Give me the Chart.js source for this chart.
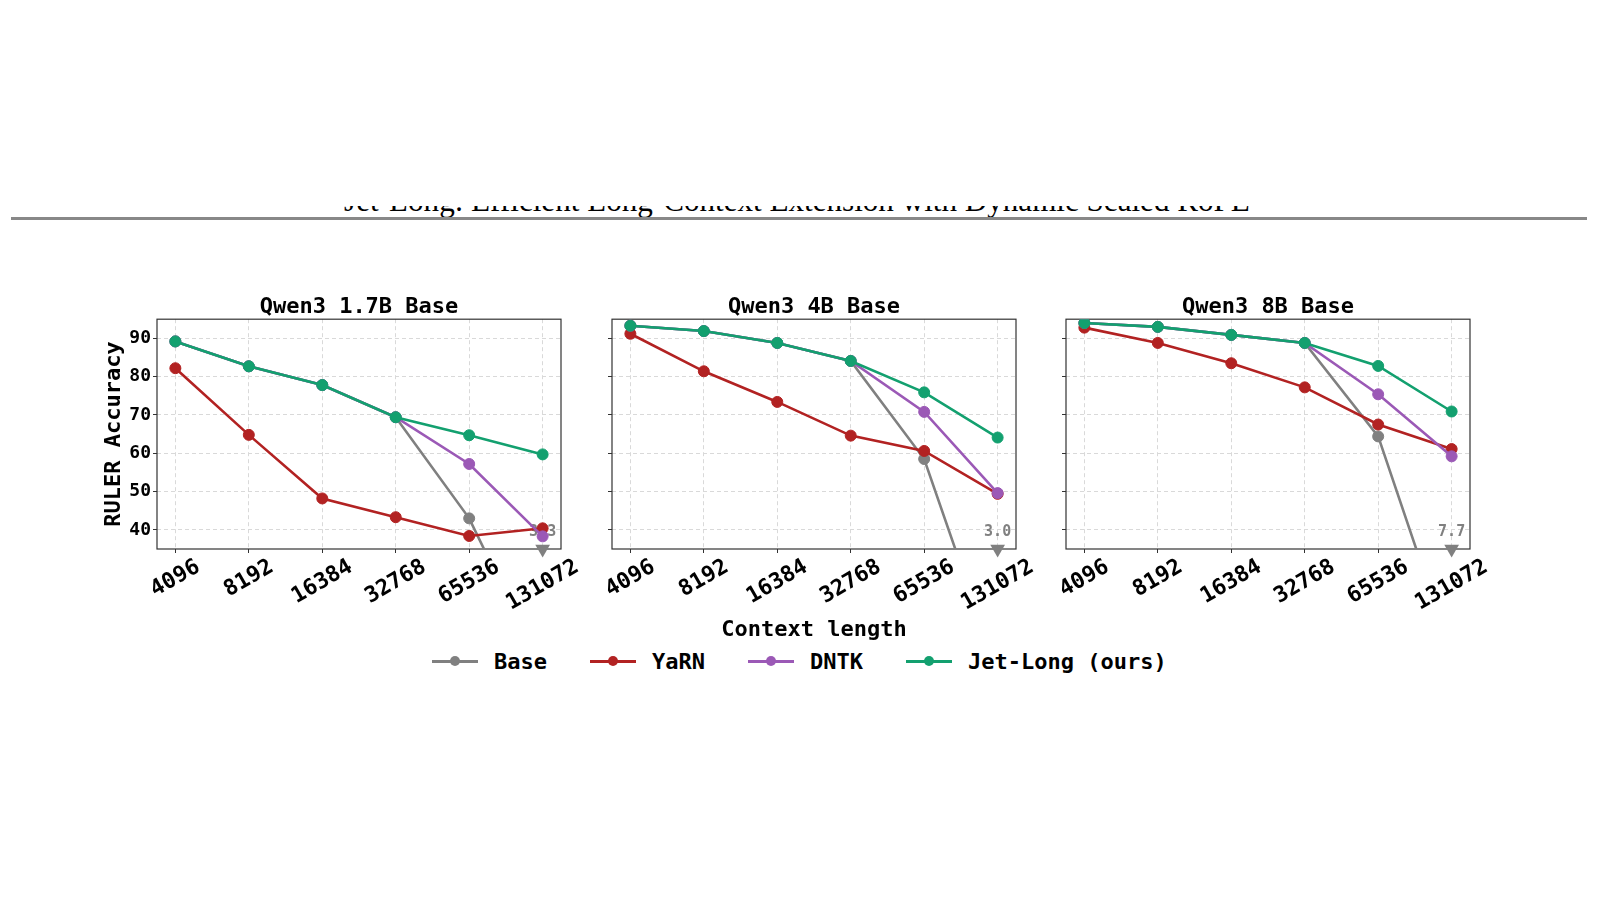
<!DOCTYPE html>
<html>
<head>
<meta charset="utf-8">
<title>RULER accuracy vs context length</title>
<script src="https://cdn.jsdelivr.net/npm/chart.js@4.4.1/dist/chart.umd.min.js"></script>
<style>
    body { margin: 0; background: #fff; }
    #page { position: relative; width: 1600px; height: 900px; overflow: hidden; background: #fff; }
    #headClip { position: absolute; left: 0; top: 206px; width: 1600px; height: 11px; overflow: hidden; }
    #headText { position: absolute; white-space: nowrap; line-height: 1; font-family: "Liberation Serif", serif; color: #000; }
    #headRule { position: absolute; left: 11px; top: 217px; width: 1576px; height: 3px; background: #888; }
    .panel { position: absolute; top: 287px; }
    #xTitle { position: absolute; left: 614px; top: 616px; width: 400px; text-align: center; line-height: 26px;
              font: bold 22px "DejaVu Sans Mono", monospace; color: #000; }
    #legend { position: absolute; left: 432px; top: 648px; height: 26px; display: flex; align-items: center;
              font: bold 22px "DejaVu Sans Mono", monospace; color: #000; }
    #legend .item { display: flex; align-items: center; margin-right: 43px; }
    #legend .swatch { position: relative; width: 46px; height: 26px; margin-right: 16px; }
    #legend .ln { position: absolute; left: 0; top: 11.5px; width: 46px; height: 3px; }
    #legend .dot { position: absolute; left: 18px; top: 8px; width: 10px; height: 10px; border-radius: 50%; }
</style>
</head>
<body>
<div id="page">
    <div id="headClip"><span id="headText">Jet-Long: Efficient Long-Context Extension with Dynamic Scaled RoPE</span></div>
    <div id="headRule"></div>
    <div class="panel" style="left:67px"><canvas id="panel0" width="544" height="332"></canvas></div>
    <div class="panel" style="left:522px"><canvas id="panel1" width="544" height="332"></canvas></div>
    <div class="panel" style="left:976px"><canvas id="panel2" width="544" height="332"></canvas></div>
    <div id="xTitle">Context length</div>
    <div id="legend"></div>
</div>
<script>
var contextLengths = ['4096', '8192', '16384', '32768', '65536', '131072'];
var panelTitles = ['Qwen3 1.7B Base', 'Qwen3 4B Base', 'Qwen3 8B Base'];
var seriesNames = ['Base', 'YaRN', 'DNTK', 'Jet-Long (ours)'];
var seriesColors = ['#808080', '#b22222', '#9b59b6', '#13a06f'];

// Qwen3 1.7B Base
var base17 = [89.2, 82.7, 77.8, 69.4, 43.0, 3.3];
var yarn17 = [82.2, 64.8, 48.2, 43.3, 38.4, 40.4];
var dntk17 = [89.2, 82.7, 77.8, 69.4, 57.2, 38.3];
var jet17 = [89.2, 82.7, 77.8, 69.4, 64.7, 59.7];

// Qwen3 4B Base
var base4 = [93.3, 91.9, 88.8, 84.1, 58.5, 3.0];
var yarn4 = [91.2, 81.4, 73.4, 64.6, 60.6, 49.4];
var dntk4 = [93.3, 91.9, 88.8, 84.1, 70.8, 49.6];
var jet4 = [93.3, 91.9, 88.8, 84.1, 75.9, 64.1];

// Qwen3 8B Base
var base8 = [94.0, 93.0, 90.9, 88.8, 64.4, 7.7];
var yarn8 = [92.8, 88.8, 83.5, 77.2, 67.5, 61.1];
var dntk8 = [94.0, 93.0, 90.9, 88.8, 75.4, 59.2];
var jet8 = [94.0, 93.0, 90.9, 88.8, 82.8, 70.9];

var yTicks = [40, 50, 60, 70, 80, 90];
var yMin = 35;
var yMax = 95;

var panelSeries = [
    [base17, yarn17, dntk17, jet17],
    [base4, yarn4, dntk4, jet4],
    [base8, yarn8, dntk8, jet8]
];

var MONO = "'DejaVu Sans Mono', monospace";
Chart.defaults.font.family = MONO;
Chart.defaults.color = '#000';

function buildPoints(values) {
    return values.map(function (v, i) { return { x: i, y: v }; });
}

// values below the axis get a marker sitting on the bottom spine
function buildOffscale(values) {
    var pts = [];
    values.forEach(function (v, i) {
        if (v < yMin) pts.push({ x: i, y: yMin, actual: v });
    });
    return pts;
}

var framePlugin = {
    id: 'frame',
    beforeDatasetsDraw: function (chart) {
        var a = chart.chartArea;
        var ctx = chart.ctx;
        ctx.save();
        ctx.strokeStyle = '#333';
        ctx.lineWidth = 1.2;
        ctx.strokeRect(a.left, a.top, a.right - a.left, a.bottom - a.top);
        ctx.restore();
    }
};

var offscaleLabelPlugin = {
    id: 'offscaleLabels',
    beforeDatasetsDraw: function (chart) {
        var ctx = chart.ctx;
        var xScale = chart.scales.x;
        var yScale = chart.scales.y;
        ctx.save();
        ctx.font = 'bold 15px ' + MONO;
        ctx.textAlign = 'center';
        ctx.textBaseline = 'middle';
        chart.data.datasets.forEach(function (ds) {
            if (!ds.isOffscale) return;
            ctx.fillStyle = ds.pointBackgroundColor;
            ds.data.forEach(function (p) {
                ctx.fillText(p.actual.toFixed(1), xScale.getPixelForValue(p.x), yScale.getPixelForValue(p.y) - 17);
            });
        });
        ctx.restore();
    }
};

// matplotlib style: rotated labels centred under the tick
var xTickLabelPlugin = {
    id: 'xTickLabels',
    afterDraw: function (chart) {
        var ctx = chart.ctx;
        var xScale = chart.scales.x;
        var bottom = chart.chartArea.bottom;
        var angle = 30 * Math.PI / 180;
        ctx.save();
        ctx.font = 'bold 22px ' + MONO;
        ctx.fillStyle = '#000';
        ctx.textAlign = 'center';
        ctx.textBaseline = 'middle';
        xScale.ticks.forEach(function (tick) {
            var label = contextLengths[tick.value];
            var w = ctx.measureText(label).width;
            var boxH = w * Math.sin(angle) + 17 * Math.cos(angle);
            ctx.save();
            ctx.translate(xScale.getPixelForValue(tick.value), bottom + 9 + boxH / 2);
            ctx.rotate(-angle);
            ctx.fillText(label, 0, 0);
            ctx.restore();
        });
        ctx.restore();
    }
};

function initPanelChart(canvasId, title, series, showYLabels) {
    var datasets = [];

    series.forEach(function (values, s) {
        var off = buildOffscale(values);
        if (off.length > 0) {
            datasets.push({
                label: seriesNames[s] + ' (off scale)',
                isOffscale: true,
                data: off,
                showLine: false,
                clip: false,
                pointStyle: 'triangle',
                pointRotation: 180,
                pointRadius: 8.5,
                pointBorderWidth: 0,
                pointBackgroundColor: seriesColors[s]
            });
        }
    });

    // first dataset is drawn on top, so Jet-Long goes first
    for (var s = series.length - 1; s >= 0; s--) {
        datasets.push({
            label: seriesNames[s],
            data: buildPoints(series[s]),
            borderColor: seriesColors[s],
            backgroundColor: seriesColors[s],
            borderWidth: 2.6,
            pointRadius: 5.5,
            pointBorderWidth: 1,
            pointBorderColor: seriesColors[s],
            pointBackgroundColor: seriesColors[s],
            tension: 0,
            fill: false
        });
    }

    var ctx = document.getElementById(canvasId).getContext('2d');
    return new Chart(ctx, {
        type: 'line',
        data: { datasets: datasets },
        options: {
            responsive: false,
            animation: false,
            devicePixelRatio: 1,
            layout: { padding: { left: 0, right: 50, top: 0, bottom: 0 } },
            plugins: {
                legend: { display: false },
                tooltip: { enabled: false },
                title: {
                    display: true,
                    fullSize: false,
                    text: title,
                    color: '#000',
                    font: { size: 22, weight: 'bold', lineHeight: 1.1 },
                    padding: { top: 8, bottom: 0 }
                }
            },
            scales: {
                x: {
                    type: 'linear',
                    min: -0.25,
                    max: contextLengths.length - 0.75,
                    afterBuildTicks: function (scale) {
                        scale.ticks = contextLengths.map(function (c, i) { return { value: i }; });
                    },
                    afterFit: function (scale) { scale.height = 70; },
                    ticks: { display: false },
                    grid: {
                        color: '#d9d9d9',
                        lineWidth: 1,
                        drawTicks: true,
                        tickLength: 4,
                        tickColor: '#333',
                        tickWidth: 1,
                        tickBorderDash: []
                    },
                    border: { display: false, dash: [4, 3] }
                },
                y: {
                    type: 'linear',
                    min: yMin,
                    max: yMax,
                    afterBuildTicks: function (scale) {
                        scale.ticks = yTicks.map(function (v) { return { value: v }; });
                    },
                    afterFit: function (scale) { scale.width = 90; },
                    ticks: {
                        padding: 2,
                        color: '#000',
                        font: { size: 18, weight: 'bold' },
                        callback: function (v) { return showYLabels ? String(v) : ''; }
                    },
                    title: {
                        display: showYLabels,
                        text: 'RULER Accuracy',
                        color: '#000',
                        font: { size: 22, weight: 'bold' },
                        padding: { top: 34, bottom: 0 }
                    },
                    grid: {
                        color: '#d9d9d9',
                        lineWidth: 1,
                        drawTicks: true,
                        tickLength: 4,
                        tickColor: '#333',
                        tickWidth: 1,
                        tickBorderDash: []
                    },
                    border: { display: false, dash: [4, 3] }
                }
            }
        },
        plugins: [framePlugin, offscaleLabelPlugin, xTickLabelPlugin]
    });
}

function buildLegend() {
    var legend = document.getElementById('legend');
    seriesNames.forEach(function (name, i) {
        var item = document.createElement('span');
        item.className = 'item';
        item.innerHTML = '<span class="swatch"><span class="ln" style="background:' + seriesColors[i] + '"></span>' +
            '<span class="dot" style="background:' + seriesColors[i] + '"></span></span><span class="lbl"></span>';
        item.querySelector('.lbl').textContent = name;
        legend.appendChild(item);
    });
}

function fitHeader() {
    // only the bottom strip of the page header survives the crop
    var head = document.getElementById('headText');
    head.style.fontSize = '30px';
    var w = head.getBoundingClientRect().width;
    var fs = 30 * 906 / w;
    head.style.fontSize = fs + 'px';
    w = head.getBoundingClientRect().width;
    head.style.left = (797 - w / 2) + 'px';
    head.style.top = (5 - 0.8375 * fs) + 'px';
}

fitHeader();
buildLegend();
panelTitles.forEach(function (t, k) {
    initPanelChart('panel' + k, t, panelSeries[k], k === 0);
});
</script>
</body>
</html>
